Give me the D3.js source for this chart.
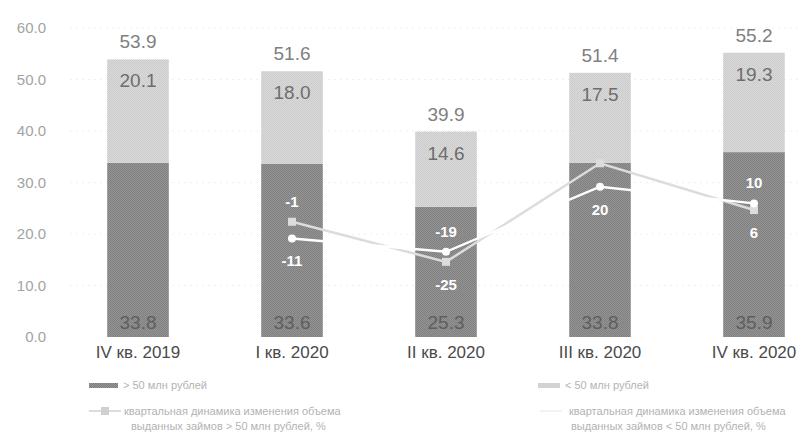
<!DOCTYPE html>
<html><head><meta charset="utf-8">
<script src="https://cdn.jsdelivr.net/npm/d3@7"></script>
<style>body{margin:0;background:#fff}svg{display:block;font-family:"Liberation Sans",Arial,sans-serif}</style>
</head><body><svg id="c" width="809" height="443"></svg>
<script>
const categories = ["IV кв. 2019","I кв. 2020","II кв. 2020","III кв. 2020","IV кв. 2020"];
const gt50 = [33.8, 33.6, 25.3, 33.8, 35.9];
const lt50 = [20.1, 18.0, 14.6, 17.5, 19.3];
const totals = [53.9, 51.6, 39.9, 51.4, 55.2];
const changeCats = ["I кв. 2020","II кв. 2020","III кв. 2020","IV кв. 2020"];
const gt50Change = [-1, -25, 34, 6];
const lt50Change = [-11, -19, 20, 10];
const yTicks = [0,10,20,30,40,50,60];
const legendLabels = ["> 50 млн рублей","< 50 млн рублей",
  ["квартальная динамика изменения объема","выданных займов > 50 млн рублей, %"],
  ["квартальная динамика изменения объема","выданных займов < 50 млн рублей, %"]];

const svg = d3.select("#c");
const defs = svg.append("defs");
function checker(id, a, b){
  const p = defs.append("pattern").attr("id",id).attr("width",2).attr("height",2).attr("patternUnits","userSpaceOnUse");
  p.append("rect").attr("width",2).attr("height",2).attr("fill",a);
  p.append("rect").attr("width",1).attr("height",1).attr("fill",b);
  p.append("rect").attr("x",1).attr("y",1).attr("width",1).attr("height",1).attr("fill",b);
}
checker("pd","#959595","#7f7f7f");
checker("pl","#dadada","#cbcbcb");

const x = d3.scaleBand().domain(categories).range([61,831]).paddingInner(0.6).paddingOuter(0.3);
const y = d3.scaleLinear().domain([0,60]).range([337,28]);
const y2 = d3.scaleLinear().domain([-70,115]).range([337,28]);
const cx = c => x(c) + x.bandwidth()/2;

// grid
svg.append("g").selectAll("line").data(yTicks.slice(1)).join("line")
  .attr("x1",70).attr("x2",800).attr("y1",d=>y(d)).attr("y2",d=>y(d))
  .attr("stroke","#efefef").attr("stroke-dasharray","2,4");

// y axis
const ya = svg.append("g").attr("transform","translate(46,0)")
  .call(d3.axisLeft(y).tickValues(yTicks).tickFormat(d3.format(".1f")).tickSize(0).tickPadding(0));
ya.select(".domain").remove();
ya.selectAll("text").attr("fill","#a3a3a3").style("font-size","15px");

// bars
const g = svg.append("g");
g.selectAll(".b1").data(gt50).join("rect")
  .attr("x",(d,i)=>x(categories[i])).attr("width",x.bandwidth())
  .attr("y",d=>y(d)).attr("height",d=>y(0)-y(d)).attr("fill","url(#pd)");
g.selectAll(".b2").data(lt50).join("rect")
  .attr("x",(d,i)=>x(categories[i])).attr("width",x.bandwidth())
  .attr("y",(d,i)=>y(gt50[i]+d)).attr("height",d=>y(0)-y(d)).attr("fill","url(#pl)");

// bar labels
const fmt = d3.format(".1f");
g.selectAll(".t").data(totals).join("text")
  .attr("x",(d,i)=>cx(categories[i])).attr("y",(d,i)=>y(gt50[i]+lt50[i])-11)
  .attr("text-anchor","middle").attr("fill","#808080").style("font-size","19px").text(d=>fmt(d));
g.selectAll(".l2").data(lt50).join("text")
  .attr("x",(d,i)=>cx(categories[i])).attr("y",(d,i)=>y(gt50[i]+d)+28)
  .attr("text-anchor","middle").attr("fill","#6e6e6e").style("font-size","19px").text(d=>fmt(d));
g.selectAll(".l1").data(gt50).join("text")
  .attr("x",(d,i)=>cx(categories[i])).attr("y",y(0)-8)
  .attr("text-anchor","middle").attr("fill","#5e5e5e").style("font-size","19px").text(d=>fmt(d));

// x axis labels
const xa = svg.append("g").attr("transform","translate(0,342)")
  .call(d3.axisBottom(x).tickSize(0).tickPadding(4));
xa.select(".domain").remove();
xa.selectAll("text").attr("fill","#4a4a4a").style("font-size","17px");

// lines
const line = d3.line().x((d,i)=>cx(changeCats[i])).y(d=>y2(d));
svg.append("path").datum(gt50Change).attr("d",line).attr("fill","none").attr("stroke","#dcdcdc").attr("stroke-width",2.5);
svg.append("path").datum(lt50Change).attr("d",line).attr("fill","none").attr("stroke","#ffffff").attr("stroke-width",2.5);
svg.selectAll(".m1").data(gt50Change).join("rect")
  .attr("x",(d,i)=>cx(changeCats[i])-4).attr("y",d=>y2(d)-4).attr("width",8).attr("height",8).attr("fill","#dcdcdc");
svg.selectAll(".m2").data(lt50Change).join("circle")
  .attr("cx",(d,i)=>cx(changeCats[i])).attr("cy",d=>y2(d)).attr("r",4).attr("fill","#ffffff");

// line labels (side: -1 above, +1 below, 0 hidden)
const gtSide = [-1, 1, 0, 1];
const ltSide = [1, -1, 1, -1];
function lineLabels(vals, side){
  svg.append("g").selectAll("text").data(vals).join("text")
    .filter((d,i)=>side[i]!==0)
    .attr("x",(d,i)=>cx(changeCats[vals.indexOf(d)]))
    .attr("y",(d,i)=>{const k=vals.indexOf(d);return y2(d)+(side[k]<0?-15:28);})
    .attr("text-anchor","middle").attr("fill","#fff").attr("font-weight","bold")
    .style("font-size","15px").text(d=>d);
}
lineLabels(gt50Change, gtSide);
lineLabels(lt50Change, ltSide);

// legend
const lg = svg.append("g").style("font-size","11px").attr("fill","#b3b3b3");
lg.append("rect").attr("x",89).attr("y",383).attr("width",29).attr("height",5).attr("fill","url(#pd)");
lg.append("text").attr("x",123).attr("y",389).text(legendLabels[0]);
lg.append("rect").attr("x",538).attr("y",383).attr("width",22).attr("height",5).attr("fill","url(#pl)");
lg.append("text").attr("x",565).attr("y",389).text(legendLabels[1]);
lg.append("line").attr("x1",89).attr("x2",121).attr("y1",411).attr("y2",411).attr("stroke","#dcdcdc").attr("stroke-width",2);
lg.append("rect").attr("x",101).attr("y",407).attr("width",8).attr("height",8).attr("fill","#d0d0d0");
lg.append("text").attr("x",124).attr("y",415).text(legendLabels[2][0]);
lg.append("text").attr("x",131).attr("y",430).text(legendLabels[2][1]);
lg.append("line").attr("x1",540).attr("x2",562).attr("y1",411).attr("y2",411).attr("stroke","#f2f2f2").attr("stroke-width",2);
lg.append("text").attr("x",569).attr("y",415).text(legendLabels[3][0]);
lg.append("text").attr("x",571).attr("y",430).text(legendLabels[3][1]);
</script></body></html>
